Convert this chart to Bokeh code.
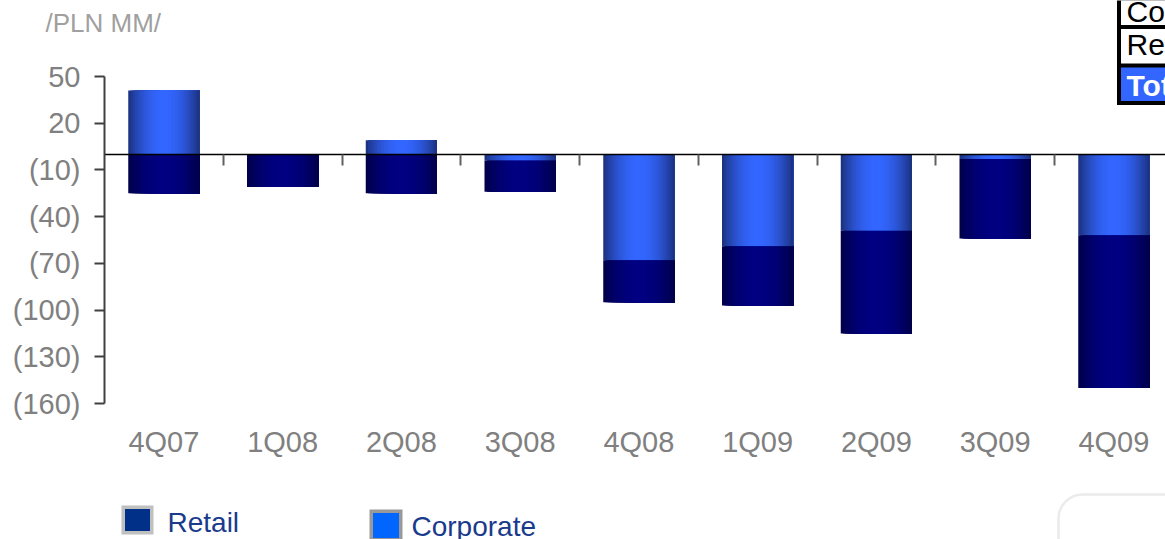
import math
from bokeh.plotting import figure
from bokeh.models import (Range1d, FixedTicker, LinearAxis, Label,
                          BoxAnnotation, ColumnDataSource)
from bokeh.embed import file_html
from bokeh.resources import INLINE

# ---------------- data ----------------
quarters = ["4Q07", "1Q08", "2Q08", "3Q08", "4Q08", "1Q09", "2Q09", "3Q09", "4Q09"]
corporate = [41, 0, 9, -4, -68, -59, -49, -3, -52]
retail = [-25, -21, -25, -20, -27, -38, -66, -51, -98]
y_ticks = [50, 20, -10, -40, -70, -100, -130, -160]
unit_label = "/PLN MM/"
legend_labels = ["Retail", "Corporate"]
legend_colors = ["#003087", "#0066ff"]
legend_edges = ["#c0c0c0", "#999999"]
table_rows = ["Corporate", "Retail", "Total"]

FONT = "Liberation Sans"
W, H = 1165, 539
# layout: plot area spans canvas px x 104.. , y 76..403
AX_X, TOP_Y, BOT_Y = 104, 76, 403
PX_PER_CAT = 118.75
y_hi, y_lo = max(y_ticks), min(y_ticks)
px_per_unit = (BOT_Y - TOP_Y) / (y_hi - y_lo)

x_range = Range1d(-AX_X / PX_PER_CAT, (W - AX_X) / PX_PER_CAT)
y_range = Range1d(y_lo - (H - BOT_Y) / px_per_unit, y_hi + TOP_Y / px_per_unit)


def sy(cy):
    # canvas y (from top) -> screen units (from bottom)
    return H - cy


def screen_box(l, r, t, b, **kw):
    return BoxAnnotation(left=l, right=r, top=sy(t), bottom=sy(b),
                         left_units="screen", right_units="screen",
                         top_units="screen", bottom_units="screen", **kw)


p = figure(width=W, height=H, x_range=x_range, y_range=y_range,
           x_axis_type=None, y_axis_type=None,
           output_backend="svg", toolbar_location=None,
           min_border=0, min_border_left=0, min_border_right=0, min_border_top=0, min_border_bottom=0,
           outline_line_color=None, background_fill_color="white", border_fill_color="white")
p.title.visible = False
p.xgrid.visible = False
p.ygrid.visible = False

# ---------------- gradient bars (nested vertical strips) ----------------
N = 32
BW = 0.6


def shade(edge, mid, t):
    f = math.sin(math.pi * t) ** 0.8
    return "#%02x%02x%02x" % tuple(int(round(e + (m - e) * f)) for e, m in zip(edge, mid))


CORP_EDGE, CORP_MID = (26, 46, 118), (51, 102, 255)
RET_EDGE, RET_MID = (0, 0, 70), (0, 0, 130)

xs, ws, tops, bots, cols = [], [], [], [], []
for i, (c, r) in enumerate(zip(corporate, retail)):
    c_top, c_bot = max(c, 0), min(c, 0)
    r_top = min(c, 0)
    r_bot = r_top + r
    left, right = i + 0.5 - BW / 2, i + 0.5 + BW / 2
    for k in range(N):
        t = (k + 0.5) / N
        l_k = left + k * BW / N
        xc, wk = (l_k + right) / 2, right - l_k
        if c != 0:
            xs.append(xc); ws.append(wk); tops.append(c_top); bots.append(c_bot)
            cols.append(shade(CORP_EDGE, CORP_MID, t))
        if r != 0:
            xs.append(xc); ws.append(wk); tops.append(r_top); bots.append(r_bot)
            cols.append(shade(RET_EDGE, RET_MID, t))

src = ColumnDataSource(dict(x=xs, w=ws, top=tops, bottom=bots, color=cols))
p.vbar(x="x", width="w", top="top", bottom="bottom", fill_color="color", line_color=None, source=src)

# ---------------- axes ----------------
yax = LinearAxis(ticker=FixedTicker(ticks=y_ticks), fixed_location=0, bounds=(y_lo, y_hi),
                 major_label_overrides={v: (str(v) if v >= 0 else "(%d)" % (-v)) for v in y_ticks},
                 major_label_text_font=FONT, major_label_text_font_size="29px",
                 major_label_text_color="#808080", axis_line_color="#404040", axis_line_width=2,
                 major_tick_line_color="#404040", major_tick_line_width=2,
                 major_tick_out=10, major_tick_in=0, minor_tick_line_color=None,
                 major_label_standoff=14)
p.add_layout(yax, "left")

centers = [i + 0.5 for i in range(len(quarters))]
xax = LinearAxis(ticker=FixedTicker(ticks=centers), fixed_location=y_lo,
                 major_label_overrides={c: q for c, q in zip(centers, quarters)},
                 major_label_text_font=FONT, major_label_text_font_size="29px",
                 major_label_text_color="#808080", axis_line_color=None,
                 major_tick_line_color=None, minor_tick_line_color=None,
                 major_tick_out=0, major_tick_in=0, major_label_standoff=22)
p.add_layout(xax, "below")

boundaries = [i for i in range(1, len(quarters))]
zero_axis = LinearAxis(ticker=FixedTicker(ticks=boundaries), fixed_location=0,
                       bounds=(0, len(quarters)),
                       axis_line_color="black", axis_line_width=1.5,
                       major_tick_line_color="#606060",
                       major_tick_line_width=2, major_tick_in=0, major_tick_out=11,
                       minor_tick_line_color=None, major_label_text_font_size="0px",
                       major_label_overrides={b: "" for b in boundaries})
p.add_layout(zero_axis, "below")

# ---------------- title ----------------
p.add_layout(Label(x=45, y=sy(22), x_units="screen", y_units="screen", text=unit_label,
                   text_font=FONT, text_font_size="26px", text_color="#a0a0a0",
                   text_align="left", text_baseline="middle"))

# ---------------- legend (swatches + labels) ----------------
swatch_outer = [(121, 153, 505, 534), (369, 402, 509, 541)]
swatch_border = 3.5
text_pos = [(167, 522), (411, 526)]
for (l, r, t, b), col, edge, lab, (tx, ty) in zip(swatch_outer, legend_colors, legend_edges,
                                                 legend_labels, text_pos):
    p.add_layout(screen_box(l, r, t, b, fill_color=edge, fill_alpha=1, line_color=None))
    p.add_layout(screen_box(l + swatch_border, r - swatch_border, t + swatch_border,
                            b - swatch_border, fill_color=col, fill_alpha=1, line_color=None))
    p.add_layout(Label(x=tx, y=sy(ty), x_units="screen", y_units="screen", text=lab,
                       text_font=FONT, text_font_size="28px", text_color="#1a3a8c",
                       text_align="left", text_baseline="middle"))

# ---------------- table (top right, clipped by the window) ----------------
TBL_L, TBL_R = 1116.5, 1200
row_spans = [(-20, 24.5), (28.5, 63), (67, 100.5)]
row_bg = ["white", "white", "#3366ff"]
row_fg = ["black", "black", "white"]
row_style = ["normal", "normal", "bold"]
row_mid = [11, 44, 85]
p.add_layout(screen_box(TBL_L, TBL_R, -20, 104.5, fill_color="black", fill_alpha=1, line_color=None))
for txt, (t, b), bg, fg, st, mid in zip(table_rows, row_spans, row_bg, row_fg, row_style, row_mid):
    p.add_layout(screen_box(TBL_L + 4, TBL_R, t, b, fill_color=bg, fill_alpha=1, line_color=None))
    p.add_layout(Label(x=1126, y=sy(mid), x_units="screen", y_units="screen", text=txt,
                       text_font=FONT, text_font_size="30px", text_color=fg, text_font_style=st,
                       text_align="left", text_baseline="middle"))

# ---------------- rounded box (bottom right) ----------------
p.add_layout(screen_box(1058, 1220, 494, 600, fill_alpha=0, line_color="#bdbdbd",
                        line_width=2.5, border_radius=24))

open("out.html", "w").write(file_html(p, INLINE))
